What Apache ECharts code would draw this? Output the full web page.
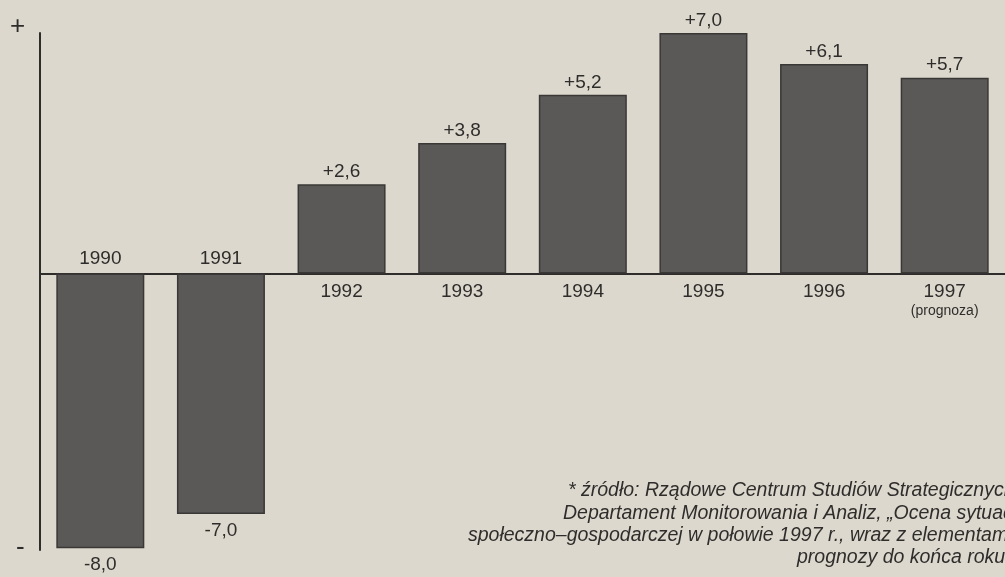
<!DOCTYPE html>
<html>
<head>
<meta charset="utf-8">
<script src="https://cdn.jsdelivr.net/npm/echarts@6/dist/echarts.min.js"></script>
<style>
  html, body { margin: 0; padding: 0; background: #dcd8ce; }
  #chart { width: 1005px; height: 577px; }
</style>
</head>
<body>
<div id="chart"></div>
<script>
// dane: dynamika PKB (%)
var years = ['1990', '1991', '1992', '1993', '1994', '1995', '1996', '1997'];
var growth = [-8.0, -7.0, 2.6, 3.8, 5.2, 7.0, 6.1, 5.7];
var yearNotes = ['', '', '', '', '', '', '', '(prognoza)'];
var sourceLines = [
	'* źródło: Rządowe Centrum Studiów Strategicznych,',
	'Departament Monitorowania i Analiz, „Ocena sytuacji',
	'społeczno–gospodarczej w połowie 1997 r., wraz z elementami',
	'prognozy do końca roku”'
];

var ink = '#2f2d2b';
var font = '"Liberation Sans", Arial, sans-serif';

function fmt(v){
	return (v > 0 ? '+' : '') + v.toFixed(1).replace('.', ',');
}

var chart = echarts.init(document.getElementById('chart'));

var barData = growth.map(function(v){
	return {
		value: v,
		label: { position: v < 0 ? 'bottom' : 'top', distance: v < 0 ? 7 : 3 }
	};
});

var yearData = years.map(function(y, i){
	var neg = growth[i] < 0;
	return {
		value: [y, 0],
		label: {
			position: neg ? 'top' : 'bottom',
			distance: neg ? 4 : 7,
			formatter: yearNotes[i] ? '{y|' + y + '}\n{n|' + yearNotes[i] + '}' : '{y|' + y + '}'
		}
	};
});

var graphics = [
	{ type: 'text', left: 10, top: 14, style: { text: '+', font: '26px ' + font, fill: ink } },
	{ type: 'text', left: 16, top: 535, style: { text: '-', font: '26px ' + font, fill: ink } }
];
// przypis - lewe krawędzie wierszy
var lineLeft = [568, 563, 468, 797];
for (var i = 0; i < sourceLines.length; i++) {
	graphics.push({
		type: 'text',
		x: lineLeft[i],
		y: 491 + i * 22.3,
		style: {
			text: sourceLines[i],
			font: 'italic 19.5px ' + font,
			fill: ink,
			align: 'left',
			verticalAlign: 'middle'
		}
	});
}

var option = {
	backgroundColor: '#dcd8ce',
	animation: false,
	grid: { left: 40, top: 33, width: 974, height: 517 },
	xAxis: {
		type: 'category',
		data: years,
		axisLine: { onZero: true, lineStyle: { color: ink, width: 2 } },
		axisTick: { show: false },
		axisLabel: { show: false }
	},
	yAxis: {
		type: 'value',
		min: -8.05,
		max: 7.0,
		axisLine: { show: true, lineStyle: { color: ink, width: 2 } },
		axisTick: { show: false },
		axisLabel: { show: false },
		splitLine: { show: false }
	},
	series: [
		{
			type: 'bar',
			data: barData,
			barWidth: 88,
			itemStyle: { color: '#5b5957', borderColor: '#3a3836', borderWidth: 1.5 },
			label: {
				show: true,
				formatter: function(p){ return fmt(p.value); },
				color: ink,
				fontFamily: font,
				fontSize: 19
			},
			z: 2
		},
		{
			type: 'scatter',
			data: yearData,
			symbolSize: 0,
			silent: true,
			itemStyle: { opacity: 1 },
			label: {
				show: true,
				color: ink,
				fontFamily: font,
				rich: {
					y: { fontSize: 19, fontFamily: font, color: ink, lineHeight: 22 },
					n: { fontSize: 14, fontFamily: font, color: ink, lineHeight: 18 }
				}
			},
			z: 3
		}
	],
	graphic: graphics
};

chart.setOption(option);
</script>
</body>
</html>
